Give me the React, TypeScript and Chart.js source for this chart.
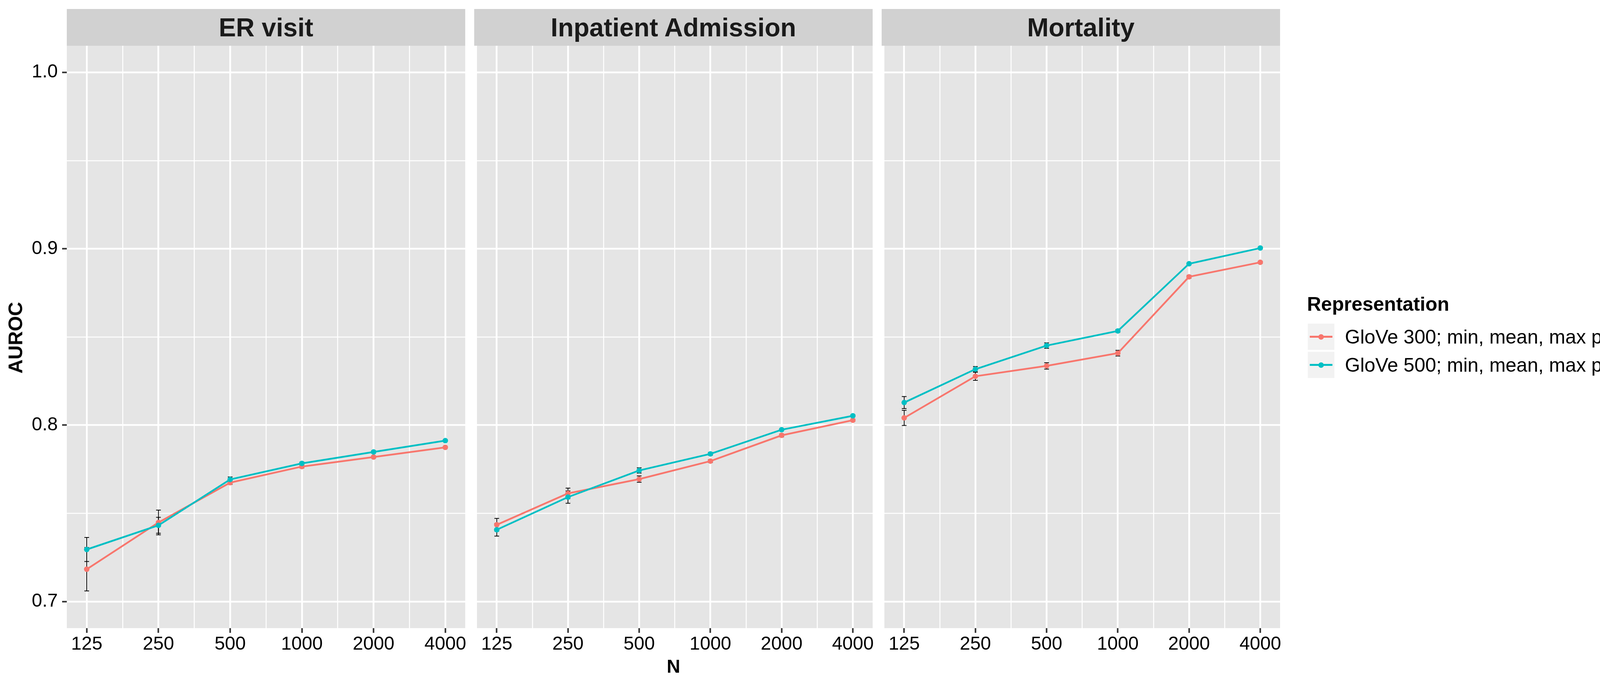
import React, { useEffect, useRef } from "react";
import { Chart, registerables } from "chart.js";

Chart.register(...registerables);

// ---------------- data ----------------
const sampleSizes = [125, 250, 500, 1000, 2000, 4000];
const yMajorTicks = [0.7, 0.8, 0.9, 1.0];
const yMinorTicks = [0.75, 0.85, 0.95];
const panelTitles = ["ER visit", "Inpatient Admission", "Mortality"];
const seriesLabels = [
  "GloVe 300; min, mean, max pool (d=900)",
  "GloVe 500; min, mean, max pool (d=1500)",
];
const seriesColors = ["#F8766D", "#00BFC4"];

const erGlove300 = [0.7183, 0.7448, 0.7674, 0.7765, 0.7819, 0.7874];
const erGlove300Err = [0.0123, 0.007, 0.001, 0.0008, 0.0006, 0.0006];
const erGlove500 = [0.7295, 0.7432, 0.7692, 0.7783, 0.7848, 0.7912];
const erGlove500Err = [0.0068, 0.0045, 0.0014, 0.0008, 0.0006, 0.0006];

const inpGlove300 = [0.7435, 0.7613, 0.7694, 0.7796, 0.7942, 0.8028];
const inpGlove300Err = [0.0036, 0.003, 0.0018, 0.0008, 0.0008, 0.0006];
const inpGlove500 = [0.7407, 0.7592, 0.7743, 0.7837, 0.7974, 0.8053];
const inpGlove500Err = [0.0036, 0.0035, 0.0015, 0.0008, 0.0006, 0.0006];

const morGlove300 = [0.8041, 0.8277, 0.8336, 0.8408, 0.8841, 0.8923];
const morGlove300Err = [0.0043, 0.0023, 0.0018, 0.0016, 0.0008, 0.0006];
const morGlove500 = [0.8128, 0.8317, 0.8451, 0.8534, 0.8915, 0.9004];
const morGlove500Err = [0.0034, 0.0015, 0.0015, 0.0008, 0.0006, 0.0006];

const panelSeries = [
  [erGlove300, erGlove500],
  [inpGlove300, inpGlove500],
  [morGlove300, morGlove500],
];
const panelErrors = [
  [erGlove300Err, erGlove500Err],
  [inpGlove300Err, inpGlove500Err],
  [morGlove300Err, morGlove500Err],
];

// ---------------- layout ----------------
const FONT = "'Liberation Sans', Arial, Helvetica, sans-serif";
const PANEL_BG = "#E5E5E5";
const STRIP_BG = "#D1D1D1";
const PLOT_TOP = 117;
const PLOT_H = 1490;
const PLOT_W = 1020;
const PANEL_LEFTS = [171, 1214, 2257];
const STRIP_TOP = 23;
const PAD_TOP = 50;
const PAD_RIGHT = 24;
const X_AXIS_H = 90;
const Y_AXIS_W = 171;
const X_EXPAND = 0.278; // in log2 units

const xTicks: number[] = [];
sampleSizes.forEach((n, i) => {
  xTicks.push(n);
  if (i < sampleSizes.length - 1) xTicks.push(Math.sqrt(n * sampleSizes[i + 1]));
});
const yTicks = [...yMajorTicks, ...yMinorTicks].sort((a, b) => a - b);

const bgPlugin = {
  id: "panelBg",
  beforeDraw(chart: any) {
    const { ctx, chartArea } = chart;
    ctx.save();
    ctx.fillStyle = PANEL_BG;
    ctx.fillRect(chartArea.left, chartArea.top, chartArea.right - chartArea.left, chartArea.bottom - chartArea.top);
    ctx.restore();
  },
};

const errorBarPlugin = {
  id: "errorBars",
  beforeDatasetsDraw(chart: any) {
    const { ctx } = chart;
    const xs = chart.scales.x;
    const ys = chart.scales.y;
    ctx.save();
    ctx.strokeStyle = "#000000";
    ctx.lineWidth = 2;
    chart.data.datasets.forEach((ds: any) => {
      ds.data.forEach((pt: any, i: number) => {
        const e = ds.errors[i];
        const x = xs.getPixelForValue(pt.x);
        const yLo = ys.getPixelForValue(pt.y - e);
        const yHi = ys.getPixelForValue(pt.y + e);
        const hw = 6;
        ctx.beginPath();
        ctx.moveTo(x, yLo);
        ctx.lineTo(x, yHi);
        ctx.moveTo(x - hw, yLo);
        ctx.lineTo(x + hw, yLo);
        ctx.moveTo(x - hw, yHi);
        ctx.lineTo(x + hw, yHi);
        ctx.stroke();
      });
    });
    ctx.restore();
  },
};

function Panel({ index }: { index: number }) {
  const ref = useRef<HTMLCanvasElement | null>(null);
  const showY = index === 0;
  const yW = showY ? Y_AXIS_W : 0;
  const cw = yW + PLOT_W + PAD_RIGHT;
  const ch = PAD_TOP + PLOT_H + X_AXIS_H;
  const left = PANEL_LEFTS[index] - yW;
  const top = PLOT_TOP - PAD_TOP;

  useEffect(() => {
    if (!ref.current) return;
    const datasets = panelSeries[index].map((vals, s) => ({
      label: seriesLabels[s],
      data: sampleSizes.map((n, i) => ({ x: n, y: vals[i] })),
      errors: panelErrors[index][s],
      borderColor: seriesColors[s],
      backgroundColor: seriesColors[s],
      pointBackgroundColor: seriesColors[s],
      pointBorderWidth: 0,
      pointRadius: 7,
      borderWidth: 4.5,
      tension: 0,
      order: 2 - s,
    }));
    const chart = new Chart(ref.current, {
      type: "line",
      data: { datasets } as any,
      plugins: [bgPlugin, errorBarPlugin],
      options: {
        animation: false,
        responsive: false,
        devicePixelRatio: 1,
        layout: { padding: { top: PAD_TOP, right: PAD_RIGHT, left: 0, bottom: 0 } },
        plugins: { legend: { display: false }, tooltip: { enabled: false }, title: { display: false } },
        scales: {
          x: {
            type: "logarithmic",
            min: sampleSizes[0] / Math.pow(2, X_EXPAND),
            max: sampleSizes[sampleSizes.length - 1] * Math.pow(2, X_EXPAND),
            bounds: "data",
            afterBuildTicks: (s: any) => {
              s.ticks = xTicks.map((v) => ({ value: v }));
            },
            afterFit: (s: any) => {
              s.height = X_AXIS_H;
            },
            border: { display: false },
            grid: {
              color: "#FFFFFF",
              lineWidth: (c: any) => (c.index % 2 === 0 ? 4.5 : 2.5),
              drawTicks: true,
              tickLength: 12,
              tickWidth: 4,
              tickColor: (c: any) => (c.index % 2 === 0 ? "#333333" : "rgba(0,0,0,0)"),
            },
            ticks: {
              autoSkip: false,
              maxRotation: 0,
              minRotation: 0,
              padding: 1,
              color: "#000000",
              font: { family: FONT, size: 48 },
              callback: (v: any, i: number) => (i % 2 === 0 ? String(Math.round(Number(v))) : ""),
            },
          },
          y: {
            type: "linear",
            min: 0.6849,
            max: 1.0151,
            bounds: "data",
            afterBuildTicks: (s: any) => {
              s.ticks = yTicks.map((v) => ({ value: v }));
            },
            afterFit: (s: any) => {
              s.width = yW;
            },
            border: { display: false },
            grid: {
              color: "#FFFFFF",
              lineWidth: (c: any) => (c.index % 2 === 0 ? 4.5 : 2.5),
              drawTicks: showY,
              tickLength: 12,
              tickWidth: 4,
              tickColor: (c: any) => (c.index % 2 === 0 ? "#333333" : "rgba(0,0,0,0)"),
            },
            ticks: {
              display: showY,
              padding: 11,
              color: "#000000",
              font: { family: FONT, size: 48 },
              callback: (v: any, i: number) => (i % 2 === 0 ? Number(v).toFixed(1) : ""),
            },
          },
        },
      } as any,
    });
    return () => chart.destroy();
  }, [index]);

  return (
    <>
      <div
        style={{
          position: "absolute",
          left: PANEL_LEFTS[index],
          top: STRIP_TOP,
          width: PLOT_W,
          height: PLOT_TOP - STRIP_TOP,
          background: STRIP_BG,
          display: "flex",
          alignItems: "center",
          justifyContent: "center",
          fontFamily: FONT,
          fontWeight: "bold",
          fontSize: 66,
          color: "#1A1A1A",
          lineHeight: 1,
        }}
      >
        {panelTitles[index]}
      </div>
      <canvas
        ref={ref}
        width={cw}
        height={ch}
        style={{ position: "absolute", left, top, width: cw, height: ch }}
      />
    </>
  );
}

function LegendKey({ color }: { color: string }) {
  return (
    <div style={{ position: "relative", width: 68, height: 67, background: "#F2F2F2" }}>
      <div style={{ position: "absolute", left: 5, width: 58, top: 31, height: 4.5, background: color }} />
      <div
        style={{
          position: "absolute",
          left: 27,
          top: 26.5,
          width: 14,
          height: 14,
          borderRadius: "50%",
          background: color,
        }}
      />
    </div>
  );
}

export default function App() {
  const text = (content: string, x: number, y: number, size: number, bold: boolean, extra: any = {}) => (
    <div
      style={{
        position: "absolute",
        left: x,
        top: y,
        fontFamily: FONT,
        fontSize: size,
        fontWeight: bold ? "bold" : "normal",
        lineHeight: 1,
        whiteSpace: "nowrap",
        color: "#000",
        ...extra,
      }}
    >
      {content}
    </div>
  );
  return (
    <div
      style={{
        position: "absolute",
        left: 0,
        top: 0,
        width: 4432,
        height: 1755,
        background: "#FFFFFF",
        overflow: "hidden",
      }}
    >
      {[0, 1, 2].map((i) => (
        <Panel key={i} index={i} />
      ))}
      {text("AUROC", 40, 864, 50, true, { transform: "translate(-50%, -50%) rotate(-90deg)" })}
      {text("N", 1724, 1705, 48, true, { transform: "translate(-50%, -50%)" })}
      {text("Representation", 3346, 778, 50, true, { transform: "translateY(-50%)" })}
      {seriesLabels.map((lab, s) => (
        <div key={s} style={{ position: "absolute", left: 3348, top: 828 + s * 72 }}>
          <LegendKey color={seriesColors[s]} />
        </div>
      ))}
      {seriesLabels.map((lab, s) => text(lab, 3443, 862 + s * 72, 50, false, { transform: "translateY(-50%)" }))}
    </div>
  );
}
